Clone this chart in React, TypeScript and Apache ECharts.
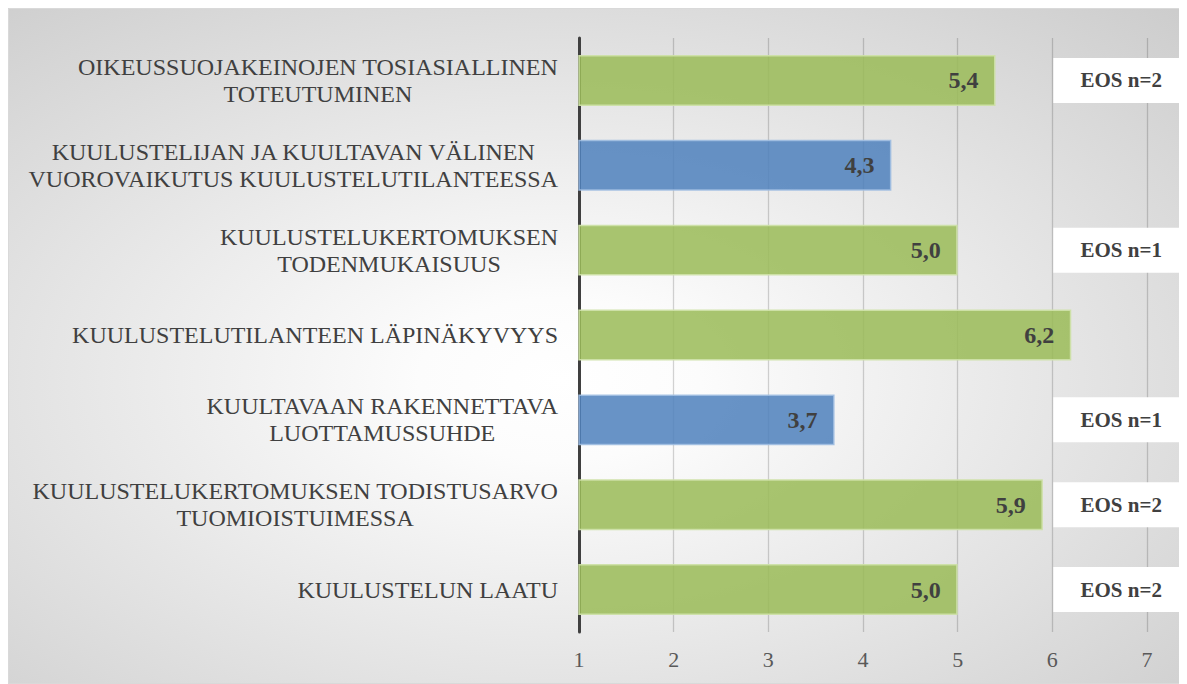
import React, { useEffect, useRef } from "react";
import * as echarts from "echarts";

const categories = [
  "OIKEUSSUOJAKEINOJEN TOSIASIALLINEN\nTOTEUTUMINEN",
  "KUULUSTELIJAN JA KUULTAVAN VÄLINEN\nVUOROVAIKUTUS KUULUSTELUTILANTEESSA",
  "KUULUSTELUKERTOMUKSEN\nTODENMUKAISUUS",
  "KUULUSTELUTILANTEEN LÄPINÄKYVYYS",
  "KUULTAVAAN RAKENNETTAVA\nLUOTTAMUSSUHDE",
  "KUULUSTELUKERTOMUKSEN TODISTUSARVO\nTUOMIOISTUIMESSA",
  "KUULUSTELUN LAATU",
];
const values = [5.4, 4.3, 5.0, 6.2, 3.7, 5.9, 5.0];
const isBlue = [false, true, false, false, true, false, false];
const eosLabels = ["EOS n=2", "", "EOS n=1", "", "EOS n=1", "EOS n=2", "EOS n=2"];
const axisMin = 1;
const axisMax = 7;
const boxStartValue = 6;

const FONT = "'Liberation Serif', 'Times New Roman', serif";
const GREEN = "rgba(155,187,89,0.86)";
const BLUE = "rgba(79,129,189,0.86)";

export default function App() {
  const ref = useRef<HTMLDivElement>(null);
  useEffect(() => {
    if (!ref.current) return;
    const chart = echarts.init(ref.current, null, { renderer: "svg" });
    const option: any = {
      animation: false,
      textStyle: { fontFamily: FONT },
      backgroundColor: {
        type: "radial",
        x: 0.47,
        y: 0.55,
        r: 1.0,
        colorStops: [
          { offset: 0, color: "#ffffff" },
          { offset: 0.12, color: "#fcfcfc" },
          { offset: 1, color: "#bbbbbb" },
        ],
      },
      graphic: [
        {
          type: "rect",
          shape: { x: 0.5, y: 0.5, width: 1173, height: 675 },
          style: { fill: "none", stroke: "#d9d9d9", lineWidth: 1 },
          z: 100,
        },
      ],
      grid: { left: 571, right: 35, top: 30, bottom: 52, containLabel: false },
      xAxis: {
        type: "value",
        min: axisMin,
        max: axisMax,
        interval: 1,
        axisLine: { show: false },
        axisTick: { show: false },
        splitLine: { show: true, lineStyle: { color: "rgba(0,0,0,0.17)", width: 1.3 } },
        axisLabel: {
          fontFamily: FONT,
          fontSize: 22,
          color: "#595959",
          margin: 16,
        },
      },
      yAxis: {
        type: "category",
        inverse: true,
        data: categories,
        axisLine: { show: true, lineStyle: { color: "#404040", width: 3 } },
        axisTick: { show: false },
        axisLabel: {
          margin: 21,
          fontFamily: FONT,
          fontSize: 24,
          color: "#404040",
          align: "right",
          formatter: (v: string) =>
            v
              .split("\n")
              .map((l) => "{a|" + l + "}")
              .join("\n"),
          rich: {
            a: {
              fontFamily: FONT,
              fontSize: 24,
              lineHeight: 27,
              color: "#404040",
              align: "center",
            },
          },
        },
      },
      series: [
        {
          type: "bar",
          barWidth: "60%",
          data: values.map((v, i) => ({
            value: v,
            itemStyle: {
              color: isBlue[i] ? BLUE : GREEN,
              borderColor: isBlue[i] ? "rgba(160,190,225,0.9)" : "rgba(205,224,168,0.95)",
              borderWidth: 1.5,
            },
          })),
          label: {
            show: true,
            position: "insideRight",
            distance: 17,
            fontFamily: FONT,
            fontSize: 24,
            fontWeight: "bold",
            color: "#404040",
            formatter: (p: any) => Number(p.value).toFixed(1).replace(".", ","),
          },
          z: 3,
        },
        {
          type: "custom",
          clip: false,
          z: 5,
          data: eosLabels.map((l, i) => [boxStartValue, i, l]),
          renderItem: (params: any, api: any) => {
            const label = eosLabels[params.dataIndex];
            if (!label) return null;
            const pt = api.coord([api.value(0), api.value(1)]);
            const right = api.getWidth() - 1;
            const h = 45;
            const x0 = pt[0] + 1;
            return {
              type: "group",
              children: [
                {
                  type: "rect",
                  shape: { x: x0, y: pt[1] - h / 2, width: right - x0, height: h },
                  style: { fill: "#ffffff" },
                },
                {
                  type: "text",
                  x: (x0 + right) / 2 + 4,
                  y: pt[1],
                  style: {
                    text: label,
                    fontFamily: FONT,
                    fontSize: 21,
                    fontWeight: "bold",
                    fill: "#404040",
                    align: "center",
                    verticalAlign: "middle",
                  },
                },
              ],
            };
          },
        },
      ],
    };
    chart.setOption(option);
    return () => chart.dispose();
  }, []);
  return <div ref={ref} style={{ width: 1174, height: 676 }} />;
}
